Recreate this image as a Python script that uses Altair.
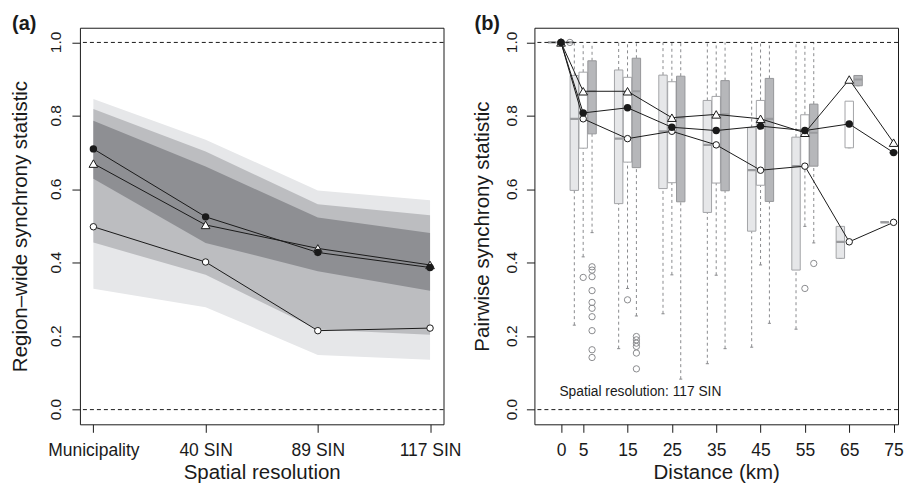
import altair as alt
import pandas as pd

# ---------------- Panel (a) data ----------------
res_labels = ["Municipality", "40 SIN", "89 SIN", "117 SIN"]
res_index = [1, 2, 3, 4]
band_outer_lo = [0.329, 0.279, 0.149, 0.136]
band_outer_hi = [0.846, 0.735, 0.597, 0.570]
band_mid_lo = [0.455, 0.367, 0.218, 0.204]
band_mid_hi = [0.819, 0.703, 0.559, 0.529]
band_inner_lo = [0.629, 0.454, 0.377, 0.324]
band_inner_hi = [0.787, 0.662, 0.523, 0.481]
a_filled = [0.710, 0.525, 0.428, 0.387]
a_triangle = [0.670, 0.503, 0.439, 0.394]
a_open = [0.498, 0.402, 0.215, 0.222]

# ---------------- Panel (b) data ----------------
distances = [0, 5, 15, 25, 35, 45, 55, 65, 75]
b_open = [1.0, 0.792, 0.738, 0.758, 0.721, 0.652, 0.663, 0.457, 0.510]
b_filled = [1.0, 0.808, 0.822, 0.769, 0.760, 0.772, 0.760, 0.778, 0.700]
b_triangle = [1.0, 0.867, 0.867, 0.795, 0.804, 0.792, 0.754, 0.899, 0.727]

light_q1 = [1.0, 0.597, 0.561, 0.602, 0.537, 0.486, 0.380, 0.412, 0.511]
light_q3 = [1.0, 0.910, 0.925, 0.911, 0.842, 0.768, 0.742, 0.499, 0.511]
light_lo = [1.0, 0.230, 0.166, 0.261, 0.125, 0.170, 0.219, 0.412, 0.511]
light_hi = [1.0, 1.0, 1.0, 1.0, 1.0, 1.0, 1.0, 0.499, 0.511]
white_q1 = [1.0, 0.712, 0.674, 0.618, 0.617, 0.611, 0.660, 0.713, 0.700]
white_q3 = [1.0, 0.919, 0.905, 0.893, 0.853, 0.842, 0.803, 0.840, 0.700]
white_lo = [1.0, 0.416, 0.330, 0.367, 0.366, 0.394, 0.499, 0.713, 0.700]
white_hi = [1.0, 1.0, 1.0, 1.0, 1.0, 1.0, 1.0, 0.840, 0.700]
dark_q1 = [1.0, 0.751, 0.659, 0.566, 0.596, 0.567, 0.663, 0.882, 0.726]
dark_q3 = [1.0, 0.950, 0.957, 0.908, 0.896, 0.902, 0.832, 0.910, 0.726]
dark_lo = [1.0, 0.482, 0.255, 0.083, 0.166, 0.235, 0.454, 0.882, 0.726]
dark_hi = [1.0, 1.0, 1.0, 1.0, 1.0, 1.0, 1.0, 0.910, 0.726]

outlier_series = ["dark", "white"] + ["dark"] * 10 + ["white"] + ["dark"] * 6 + ["white", "dark"]
outlier_dist = [0, 5] + [5] * 10 + [15] + [15] * 6 + [55, 55]
outlier_value = [1.0, 0.360,
                 0.389, 0.380, 0.362, 0.324, 0.292, 0.276, 0.253, 0.215, 0.163, 0.142,
                 0.299,
                 0.199, 0.190, 0.181, 0.172, 0.154, 0.111,
                 0.330, 0.398]

y_tick_values = [0.0, 0.2, 0.4, 0.6, 0.8, 1.0]
y_tick_labels = ["0.0", "0.2", "0.4", "0.6", "0.8", "1.0"]

series_names = ["light", "white", "dark"]
series_offset = {"light": -2, "white": 0, "dark": 2}
series_fill = ["#e6e7e9", "#ffffff", "#b6b7ba"]
series_stroke = ["#a3a4a7", "#a3a4a7", "#96979a"]

FONT = "Liberation Sans"
INK = "#1a1a1a"

# ---------------- build tables ----------------
a_df = pd.DataFrame({
    "idx": res_index,
    "o_lo": band_outer_lo, "o_hi": band_outer_hi,
    "m_lo": band_mid_lo, "m_hi": band_mid_hi,
    "i_lo": band_inner_lo, "i_hi": band_inner_hi,
})
a_lines = pd.DataFrame({
    "idx": res_index * 3,
    "val": a_filled + a_triangle + a_open,
    "kind": ["filled"] * 4 + ["triangle"] * 4 + ["open"] * 4,
})

stats = {
    "light": (light_q1, light_q3, light_lo, light_hi, b_open),
    "white": (white_q1, white_q3, white_lo, white_hi, b_filled),
    "dark": (dark_q1, dark_q3, dark_lo, dark_hi, b_triangle),
}
rows = []
for s in series_names:
    q1, q3, lo, hi, med = stats[s]
    for i, d in enumerate(distances):
        x = d + series_offset[s]
        rows.append(dict(series=s, x=x, xl=x - 0.95, xr=x + 0.95, cl=x - 0.35, cr=x + 0.35,
                         q1=q1[i], q3=q3[i], lo=lo[i], hi=hi[i], med=med[i]))
box_df = pd.DataFrame(rows)
out_df = pd.DataFrame({
    "x": [d + series_offset[s] for d, s in zip(outlier_dist, outlier_series)],
    "val": outlier_value,
})
b_lines = pd.DataFrame({
    "d": distances * 3,
    "val": b_filled + b_triangle + b_open,
    "kind": ["filled"] * 9 + ["triangle"] * 9 + ["open"] * 9,
})
ref_df = pd.DataFrame({"v": [0.0, 1.0]})
ytick_df = pd.DataFrame({"v": y_tick_values, "lab": y_tick_labels})

# ---------------- scales / axes ----------------
y_scale = alt.Scale(domain=[-0.04, 1.04], nice=False, zero=False, padding=0)
xa_scale = alt.Scale(domain=[0.88, 4.12], nice=False, zero=False, padding=0)
xb_scale = alt.Scale(domain=[-6, 76], nice=False, zero=False, padding=0)

W, H = 364, 397

def y_axis(title, tx):
    return alt.Axis(title=title, values=y_tick_values, labels=False,
                    tickSize=8, domain=False, grid=False, tickColor=INK,
                    titleX=tx, titleY=H / 2, titleAngle=270, titleAlign="center",
                    titleBaseline="alphabetic", titleFontSize=20.5,
                    titleFontWeight="normal", titleColor=INK)

label_expr = "[" + ",".join("'%s'" % l for l in res_labels) + "][datum.value-1]"

def x_axis(title, values, **kw):
    return alt.Axis(title=title, values=values, tickSize=8, labelPadding=23,
                    labelBaseline="alphabetic", domain=False, grid=False,
                    labelFontSize=17.5, labelColor=INK, tickColor=INK, labelOverlap=False,
                    titleX=W / 2, titleY=54, titleAlign="center", titleBaseline="alphabetic",
                    titleFontSize=20.5, titleFontWeight="normal", titleColor=INK, **kw)

YA = y_axis("Region\u2013wide synchrony statistic", -53)
YB = y_axis("Pairwise synchrony statistic", -46)
XA = x_axis("Spatial resolution", res_index, labelExpr=label_expr)
XB = x_axis("Distance (km)", distances, format="d")

def xa(f):
    return alt.X(f, type="quantitative", scale=xa_scale, axis=XA)

def xb(f):
    return alt.X(f, type="quantitative", scale=xb_scale, axis=XB)

def ya(f):
    return alt.Y(f, type="quantitative", scale=y_scale, axis=YA)

def yb(f):
    return alt.Y(f, type="quantitative", scale=y_scale, axis=YB)

def ytick_labels(yenc, xoff):
    return alt.Chart(ytick_df).mark_text(
        angle=270, align="center", baseline="alphabetic", fontSize=15.5, font=FONT, color=INK
    ).encode(text="lab:N", x=alt.value(xoff), y=yenc)

def pts(df, xenc, yenc, kind):
    src = alt.Chart(df).transform_filter(alt.datum.kind == kind)
    if kind == "filled":
        m = src.mark_point(shape="circle", filled=True, color=INK, size=55, opacity=1)
    elif kind == "open":
        m = src.mark_point(shape="circle", filled=True, fill="white", stroke=INK,
                           strokeWidth=1, size=42, opacity=1)
    else:
        m = src.mark_point(shape="triangle-up", filled=True, fill="white", stroke=INK,
                           strokeWidth=1, size=75, opacity=1)
    return m.encode(x=xenc, y=yenc)

def tag(text, xoff):
    return alt.Chart(pd.DataFrame({"t": [text]})).mark_text(
        align="left", baseline="alphabetic", fontSize=20, fontWeight="bold", font=FONT, color=INK
    ).encode(text="t:N", x=alt.value(xoff), y=alt.value(2.5))

# ---------------- panel (a) ----------------
base_a = alt.Chart(a_df)
band_outer = base_a.mark_area(color="#e6e7e9", opacity=1).encode(
    x=xa("idx"), y=ya("o_lo"), y2="o_hi")
band_mid = base_a.mark_area(color="#bcbdc0", opacity=1).encode(
    x=xa("idx"), y=ya("m_lo"), y2="m_hi")
band_inner = base_a.mark_area(color="#8e8f93", opacity=1).encode(
    x=xa("idx"), y=ya("i_lo"), y2="i_hi")
refs_a = alt.Chart(ref_df).mark_rule(color=INK, strokeDash=[4, 3], strokeWidth=1).encode(
    y=ya("v"))
lines_a = alt.Chart(a_lines).mark_line(color=INK, strokeWidth=1).encode(
    x=xa("idx"), y=ya("val"), detail="kind:N")

panel_a = alt.layer(
    band_outer, band_mid, band_inner, refs_a, lines_a,
    pts(a_lines, xa("idx"), ya("val"), "open"),
    pts(a_lines, xa("idx"), ya("val"), "triangle"),
    pts(a_lines, xa("idx"), ya("val"), "filled"),
    ytick_labels(ya("v"), -19),
    tag("(a)", -68),
).properties(width=W, height=H)

# ---------------- panel (b) ----------------
color_fill = alt.Scale(domain=series_names, range=series_fill)
color_stroke = alt.Scale(domain=series_names, range=series_stroke)
base_b = alt.Chart(box_df)

whisk_up = base_b.mark_rule(color="#8a8b8e", strokeDash=[3, 3], strokeWidth=1, clip=True).encode(
    x=xb("x"), y=yb("q3"), y2="hi")
whisk_dn = base_b.mark_rule(color="#8a8b8e", strokeDash=[3, 3], strokeWidth=1, clip=True).encode(
    x=xb("x"), y=yb("lo"), y2="q1")
caps = base_b.mark_rule(color="#8a8b8e", strokeWidth=1, clip=True).encode(
    x=xb("cl"), x2="cr", y=yb("lo"))
boxes = base_b.mark_rect(strokeWidth=1, clip=True).encode(
    x=xb("xl"), x2="xr", y=yb("q1"), y2="q3",
    fill=alt.Fill("series:N", scale=color_fill, legend=None),
    stroke=alt.Stroke("series:N", scale=color_stroke, legend=None))
medians = base_b.mark_rule(color="#9a9b9e", strokeWidth=2.2, clip=True).encode(
    x=xb("xl"), x2="xr", y=yb("med"))
outliers = alt.Chart(out_df).mark_point(shape="circle", filled=False, color="#8a8b8e",
                                        size=40, strokeWidth=1, opacity=1).encode(
    x=xb("x"), y=yb("val"))
refs_b = alt.Chart(ref_df).mark_rule(color=INK, strokeDash=[4, 3], strokeWidth=1).encode(
    y=yb("v"))
lines_b = alt.Chart(b_lines).mark_line(color=INK, strokeWidth=1).encode(
    x=xb("d"), y=yb("val"), detail="kind:N")
note = alt.Chart(pd.DataFrame({"t": ["Spatial resolution: 117 SIN"]})).mark_text(
    align="left", baseline="alphabetic", fontSize=13.8, font=FONT, color=INK
).encode(text="t:N", x=alt.value(25), y=alt.value(369))

panel_b = alt.layer(
    whisk_up, whisk_dn, caps, boxes, medians, outliers, refs_b, lines_b,
    pts(b_lines, xb("d"), yb("val"), "open"),
    pts(b_lines, xb("d"), yb("val"), "triangle"),
    pts(b_lines, xb("d"), yb("val"), "filled"),
    note,
    ytick_labels(yb("v"), -17),
    tag("(b)", -60),
).properties(width=W, height=H)

chart = alt.hconcat(panel_a, panel_b, spacing=91, bounds="flush").configure(
    font=FONT, padding={"left": 2, "top": 5.5, "right": 0, "bottom": 0}
).configure_view(stroke=INK, strokeWidth=1).configure_axis(
    labelFont=FONT, titleFont=FONT)

chart.save("out.html", embed_options={"renderer": "svg", "actions": False})
